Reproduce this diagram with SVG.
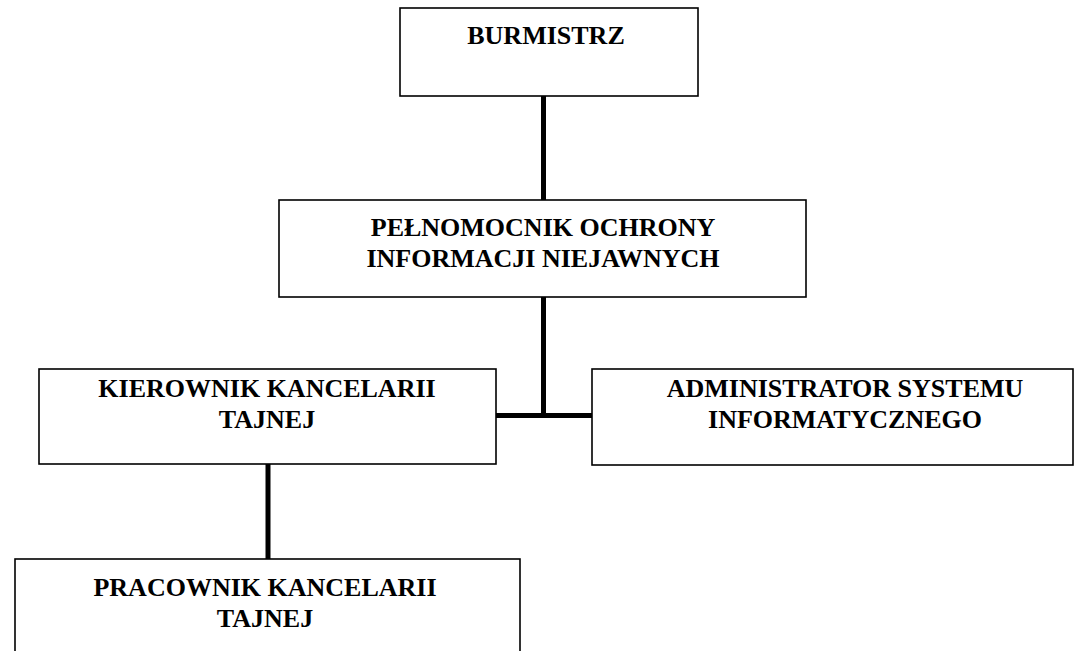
<svg xmlns="http://www.w3.org/2000/svg" width="1077" height="651" viewBox="0 0 1077 651">
<style>
.box{fill:#fff;stroke:#000;stroke-width:1.6}
.t{font-family:"Liberation Serif","Times New Roman",serif;font-weight:bold;font-size:26px;fill:#000;text-anchor:middle}
.c{stroke:#000;stroke-width:5;fill:none}
</style>
<rect width="1077" height="651" fill="#fff"/>
<g id="connectors">
<line class="c" x1="543.5" y1="96" x2="543.5" y2="200"/>
<line class="c" x1="543.5" y1="297" x2="543.5" y2="416"/>
<line class="c" x1="496" y1="415.5" x2="592" y2="415.5"/>
<line class="c" x1="268" y1="464" x2="268" y2="559"/>
</g>
<g id="burmistrz">
<rect class="box" x="400" y="8" width="298" height="88"/>
<text class="t" x="546" y="44">BURMISTRZ</text>
</g>
<g id="pelnomocnik">
<rect class="box" x="279" y="200" width="527" height="97"/>
<text class="t" x="543" y="236">PEŁNOMOCNIK OCHRONY</text>
<text class="t" x="543" y="267">INFORMACJI NIEJAWNYCH</text>
</g>
<g id="kierownik">
<rect class="box" x="39" y="369" width="457" height="95"/>
<text class="t" x="267" y="397">KIEROWNIK KANCELARII</text>
<text class="t" x="267" y="428">TAJNEJ</text>
</g>
<g id="administrator">
<rect class="box" x="592" y="369" width="481" height="96"/>
<text class="t" x="845" y="397">ADMINISTRATOR SYSTEMU</text>
<text class="t" x="845" y="428">INFORMATYCZNEGO</text>
</g>
<g id="pracownik">
<rect class="box" x="15" y="559" width="505" height="100"/>
<text class="t" x="265" y="596">PRACOWNIK KANCELARII</text>
<text class="t" x="265" y="627">TAJNEJ</text>
</g>
</svg>
